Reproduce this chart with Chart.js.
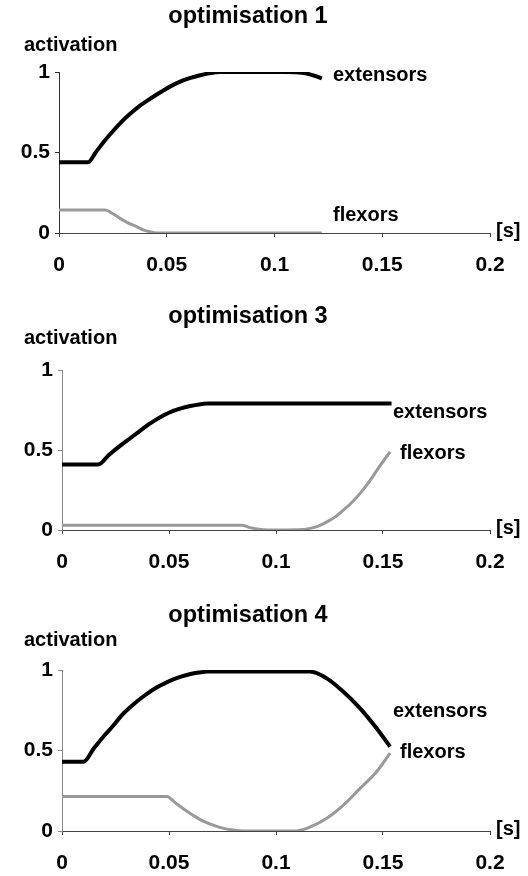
<!DOCTYPE html>
<html>
<head>
<meta charset="utf-8">
<script src="https://cdn.jsdelivr.net/npm/chart.js@4"></script>
<style>
  body { margin: 0; background: #fff; }
  .box { position: absolute; left: 0; width: 528px; }
</style>
</head>
<body>
<div class="box" style="top:0;height:290px"><canvas id="c1"></canvas></div>
<div class="box" style="top:290px;height:290px"><canvas id="c2"></canvas></div>
<div class="box" style="top:580px;height:296px"><canvas id="c3"></canvas></div>
<script>
var xTicks = ['0', '0.05', '0.1', '0.15', '0.2']
var yTicks = ['0', '0.5', '1']

// optimisation 1
var t1ext = [0, 0.0135, 0.017, 0.021, 0.025, 0.029, 0.033, 0.037, 0.041, 0.045, 0.049, 0.053, 0.057, 0.061, 0.065, 0.069, 0.075, 0.09, 0.105, 0.11, 0.115, 0.119, 0.122]
var ext1 = [0.44, 0.44, 0.5, 0.57, 0.632, 0.69, 0.74, 0.785, 0.822, 0.857, 0.89, 0.92, 0.945, 0.963, 0.978, 0.99, 1.0, 1.0, 1.0, 0.998, 0.99, 0.975, 0.96]
var t1flx = [0, 0.0214, 0.025, 0.0283, 0.032, 0.036, 0.039, 0.0422, 0.045, 0.06, 0.08, 0.1, 0.122]
var flx1 = [0.143, 0.143, 0.12, 0.091, 0.063, 0.039, 0.02, 0.008, 0, 0, 0, 0, 0]

// optimisation 3
var t3ext = [0, 0.017, 0.022, 0.028, 0.032, 0.036, 0.04, 0.044, 0.048, 0.052, 0.056, 0.06, 0.064, 0.068, 0.08, 0.1, 0.12, 0.14, 0.154]
var ext3 = [0.41, 0.41, 0.47, 0.535, 0.575, 0.615, 0.655, 0.69, 0.72, 0.745, 0.762, 0.775, 0.785, 0.79, 0.79, 0.79, 0.79, 0.79, 0.79]
var t3flx = [0, 0.084, 0.088, 0.092, 0.096, 0.1, 0.105, 0.11, 0.116, 0.12, 0.124, 0.128, 0.132, 0.136, 0.14, 0.144, 0.148, 0.1533]
var flx3 = [0.03, 0.03, 0.015, 0.004, 0, 0, 0, 0.001, 0.01, 0.026, 0.052, 0.085, 0.13, 0.18, 0.24, 0.31, 0.39, 0.489]

// optimisation 4
var t4ext = [0, 0.01, 0.015, 0.02, 0.024, 0.028, 0.032, 0.036, 0.04, 0.044, 0.048, 0.052, 0.056, 0.06, 0.064, 0.068, 0.08, 0.1, 0.1159, 0.1237, 0.1315, 0.1393, 0.147, 0.1533]
var ext4 = [0.43, 0.43, 0.515, 0.596, 0.655, 0.72, 0.77, 0.815, 0.855, 0.89, 0.917, 0.942, 0.96, 0.975, 0.984, 0.99, 0.99, 0.99, 0.99, 0.948, 0.865, 0.762, 0.638, 0.524]
var t4flx = [0, 0.049, 0.053, 0.057, 0.061, 0.065, 0.07, 0.075, 0.08, 0.085, 0.1, 0.109, 0.116, 0.1237, 0.1315, 0.1393, 0.147, 0.1533]
var flx4 = [0.215, 0.215, 0.175, 0.135, 0.1, 0.068, 0.04, 0.018, 0.006, 0, 0, 0, 0.025, 0.079, 0.161, 0.265, 0.368, 0.483]

function pts(t, v) {
    return t.map(function (x, i) { return { x: x, y: v[i] } })
}

var FONT = "'Liberation Sans', Arial, sans-serif"

function makeChart(id, o) {
    var labelsPlugin = {
        id: 'labels' + id,
        afterDraw: function (chart) {
            var c = chart.ctx
            var a = chart.chartArea
            c.save()
            c.fillStyle = '#000'
            c.textBaseline = 'middle'
            c.font = 'bold 23.5px ' + FONT
            c.textAlign = 'center'
            c.fillText(o.title, 248, o.titleY)
            c.font = 'bold 20px ' + FONT
            c.textAlign = 'left'
            c.fillText('activation', 24, o.actY)
            c.fillText('extensors', o.extPos[0], o.extPos[1])
            c.fillText('flexors', o.flxPos[0], o.flxPos[1])
            c.fillText('[s]', a.right + 6, a.bottom - 2)
            c.restore()
        }
    }
    var H = o.height
    return new Chart(document.getElementById(id), {
        type: 'line',
        data: {
            datasets: [{
                data: pts(o.te, o.ext),
                borderColor: '#000',
                borderWidth: 4,
                pointRadius: 0,
                cubicInterpolationMode: 'monotone',
            }, {
                data: pts(o.tf, o.flx),
                borderColor: '#999',
                borderWidth: 3,
                pointRadius: 0,
                cubicInterpolationMode: 'monotone',
            }]
        },
        options: {
            responsive: true,
            maintainAspectRatio: false,
            animation: false,
            events: [],
            layout: {
                padding: { left: 0, right: 38, top: o.top, bottom: 0 }
            },
            plugins: {
                legend: { display: false },
                tooltip: { enabled: false },
            },
            scales: {
                x: {
                    type: 'linear',
                    min: 0,
                    max: 0.2,
                    afterFit: function (s) { s.height = H - o.bottom },
                    afterBuildTicks: function (s) {
                        s.ticks = xTicks.map(function (v) { return { value: parseFloat(v) } })
                    },
                    ticks: {
                        color: '#000',
                        padding: 16,
                        maxRotation: 0,
                        autoSkip: false,
                        font: { size: 21, weight: 'bold', family: FONT },
                        callback: function (v, i) { return xTicks[i] },
                    },
                    grid: { drawOnChartArea: false, tickLength: 4, color: '#444' },
                    border: { color: '#444' },
                },
                y: {
                    min: 0,
                    max: 1,
                    afterFit: function (s) { s.width = o.left },
                    afterBuildTicks: function (s) {
                        s.ticks = yTicks.map(function (v) { return { value: parseFloat(v) } })
                    },
                    ticks: {
                        color: '#000',
                        padding: 5,
                        font: { size: 21, weight: 'bold', family: FONT },
                        callback: function (v, i) { return yTicks[i] },
                    },
                    grid: { drawOnChartArea: false, tickLength: 4, color: o.yColor },
                    border: { color: o.yColor },
                }
            }
        },
        plugins: [labelsPlugin]
    })
}

makeChart('c1', {
    title: 'optimisation 1', titleY: 17, actY: 45, height: 290,
    left: 59, top: 72, bottom: 233, yColor: '#333',
    te: t1ext, ext: ext1, tf: t1flx, flx: flx1,
    extPos: [333, 75], flxPos: [333, 215],
})
makeChart('c2', {
    title: 'optimisation 3', titleY: 27, actY: 48, height: 290,
    left: 62, top: 80, bottom: 240, yColor: '#888',
    te: t3ext, ext: ext3, tf: t3flx, flx: flx3,
    extPos: [393, 122], flxPos: [400, 163],
})
makeChart('c3', {
    title: 'optimisation 4', titleY: 36, actY: 60, height: 296,
    left: 62, top: 90, bottom: 251, yColor: '#888',
    te: t4ext, ext: ext4, tf: t4flx, flx: flx4,
    extPos: [393, 131], flxPos: [400, 172],
})
</script>
</body>
</html>
